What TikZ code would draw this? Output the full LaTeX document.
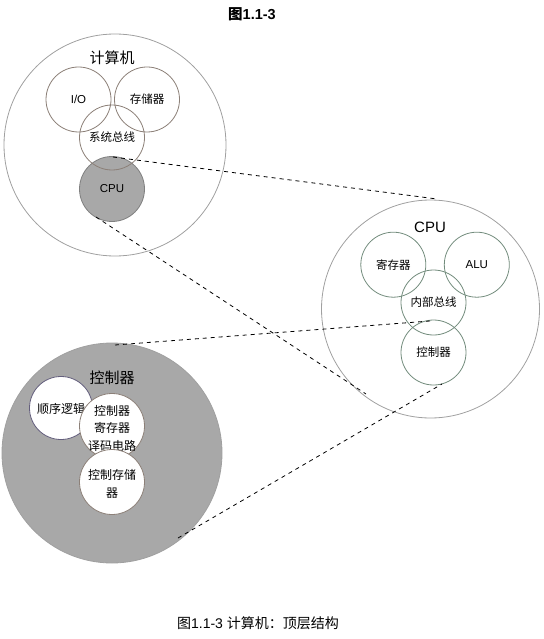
\documentclass[tikz,border=0pt]{standalone}
\usepackage{fontspec}
\setmainfont{Liberation Sans}
\newfontfamily\cjk{Noto Sans CJK SC}
\definecolor{bigline}{RGB}{160,160,160}
\definecolor{brownline}{RGB}{140,128,120}
\definecolor{greenline}{RGB}{115,140,125}
\definecolor{seqline}{RGB}{100,95,125}
\definecolor{darkfill}{RGB}{168,168,168}
\begin{document}
\begin{tikzpicture}[x=1pt,y=-1pt,
  bigcirc/.style={circle,draw=bigline,line width=0.8pt,inner sep=0pt},
  pcirc/.style={circle,draw=brownline,line width=0.8pt,inner sep=0pt,minimum size=65pt},
  gcirc/.style={circle,draw=greenline,line width=0.8pt,inner sep=0pt,minimum size=65pt},
  wcirc/.style={circle,draw=brownline,fill=white,line width=0.8pt,inner sep=0pt,minimum size=65pt},
  lbl/.style={font=\fontsize{11.5}{14}\selectfont,align=center},
  biglbl/.style={font=\fontsize{15}{18}\selectfont},
  dsh/.style={dashed,dash pattern=on 4pt off 4pt,line width=0.8pt,black}]
\useasboundingbox (0,0) rectangle (543,639);
% title
\node[font=\bfseries\fontsize{14.5}{16}\selectfont] (title) at (252,14) {{\cjk 图}1.1-3};
% computer
\node[bigcirc,minimum size=222pt] (comp) at (115,145) {};
\node[biglbl] (compl) at (112,58) {\cjk 计算机};
\node[circle,draw=black!50,fill=darkfill,line width=0.8pt,minimum size=65pt,inner sep=0pt] (cpu) at (112,189) {};
\node[pcirc] (io) at (78.5,99.5) {};
\node[pcirc] (mem) at (147,99.5) {};
\node[pcirc] (bus) at (112,137.5) {};
\node[lbl] at (io.center) {I/O};
\node[lbl] at (mem.center) {\cjk 存储器};
\node[lbl] at (bus.center) {\cjk 系统总线};
\node[lbl] at (cpu.center) {CPU};
% CPU
\node[bigcirc,minimum size=218pt] (cpub) at (430.5,309) {};
\node[biglbl] (cpul) at (430,227) {CPU};
\node[gcirc] (reg) at (393.3,264.7) {};
\node[gcirc] (alu) at (476.8,264.7) {};
\node[gcirc] (ibus) at (433.5,302.5) {};
\node[gcirc] (ctl) at (433.5,352.5) {};
\node[lbl] at (reg.center) {\cjk 寄存器};
\node[lbl] at (alu.center) {ALU};
\node[lbl] at (ibus.center) {\cjk 内部总线};
\node[lbl] at (ctl.center) {\cjk 控制器};
% controller
\node[circle,draw=bigline,fill=darkfill,line width=0.8pt,minimum size=220pt,inner sep=0pt] (ctlb) at (112,453) {};
\node[biglbl] (ctll) at (112,378) {\cjk 控制器};
\node[circle,draw=seqline,fill=white,line width=0.8pt,minimum size=63pt,inner sep=0pt] (seq) at (61,408) {};
\node[lbl,font=\fontsize{12}{14}\selectfont] at (61,409) {\cjk 顺序逻辑};
\node[wcirc] (creg) at (112,426) {};
\node[lbl,font=\fontsize{12}{17.5}\selectfont] at (112,428) {\cjk 控制器\\ \cjk 寄存器\\ \cjk 译码电路};
\node[wcirc] (cmem) at (112,482) {};
\node[lbl,font=\fontsize{12}{18}\selectfont] at (112,484) {\cjk 控制存储\\ \cjk 器};
% dashed connectors
\coordinate (a1) at (113,157);
\coordinate (a2) at (437,199);
\coordinate (b1) at (96,217);
\coordinate (b2) at (366,394);
\coordinate (c1) at (115,345);
\coordinate (c2) at (430,321);
\coordinate (d1) at (178,538);
\coordinate (d2) at (442,384);
\draw[dsh] (a1) -- (a2);
\draw[dsh] (b1) -- (b2);
\draw[dsh] (c1) -- (c2);
\draw[dsh] (d1) -- (d2);
% caption
\node[font=\fontsize{14}{16}\selectfont] (cap) at (258,623) {{\cjk 图}1.1-3 {\cjk 计算机：顶层结构}};
\end{tikzpicture}
\end{document}
